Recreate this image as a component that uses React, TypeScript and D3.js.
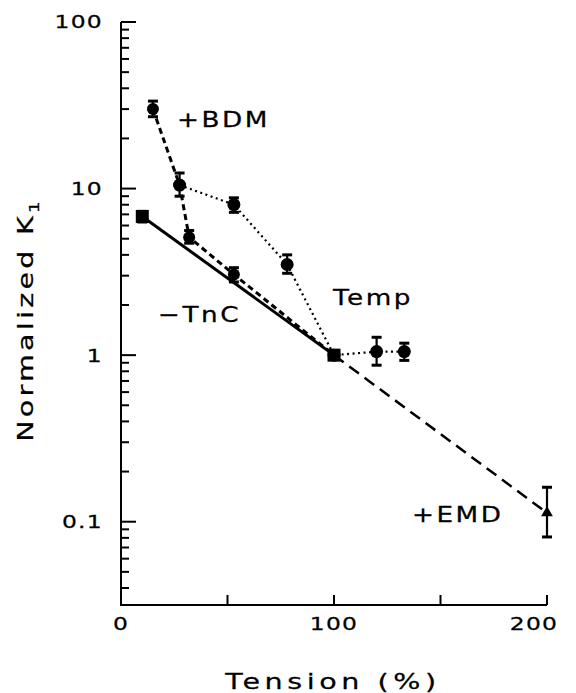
import * as d3 from "d3";

// -TnC (squares, solid line)
const tncX = [10, 100];
const tncY = [6.8, 1];
const tncLo = [6.3, 1];
const tncHi = [7.3, 1];

// +BDM (dashed)
const bdmX = [15, 27.5, 32, 53, 100];
const bdmY = [30, 10.5, 5.1, 3.05, 1];
const bdmLo = [27, 10.5, 4.7, 2.75, 1];
const bdmHi = [33.5, 10.5, 5.6, 3.35, 1];

// Temp (dotted)
const tempX = [27.5, 53, 78, 100, 120, 133];
const tempY = [10.5, 8.0, 3.5, 1, 1.05, 1.05];
const tempLo = [9.0, 7.2, 3.1, 1, 0.87, 0.93];
const tempHi = [12.4, 8.8, 4.0, 1, 1.28, 1.18];

// +EMD (long dashes)
const emdX = [100, 200];
const emdY = [1, 0.113];
const emdLo = [1, 0.081];
const emdHi = [1, 0.161];

const yTicks = [0.1, 1, 10, 100];
const yTickLabels = ["0.1", "1", "10", "100"];
const xTicks = [0, 100, 200];
const xTickLabels = ["0", "100", "200"];

const FONT = "'DejaVu Sans', sans-serif";

// wide text: the original face is a broad geometric sans
function Wide(props: {
  x: number; y: number; size: number; sx: number; ls: number;
  anchor?: string; dy?: string; rotate?: number; children: any;
}) {
  const { x, y, size, sx, ls, anchor, dy, rotate, children } = props;
  return (
    <g transform={`translate(${x},${y})${rotate ? ` rotate(${rotate})` : ""} scale(${sx},1)`}>
      <text
        x={0}
        y={0}
        dy={dy}
        textAnchor={anchor ?? "start"}
        fontFamily={FONT}
        fontSize={size}
        letterSpacing={ls}
        fill="#000"
        stroke="#000"
        strokeWidth={0.25}
      >
        {children}
      </text>
    </g>
  );
}

export default function App() {
  const x = d3.scaleLinear().domain([0, 200]).range([121, 547]);
  const y = d3.scaleLog().domain([10 ** -1.5, 100]).range([605, 22]);

  const line = (xs: number[], ys: number[]) =>
    d3.line<number>().x((_, i) => x(xs[i])).y((d) => y(d))(ys) ?? "";

  const minor: number[] = [];
  for (let e = -2; e < 2; e++) {
    for (let m = 2; m <= 9; m++) {
      const v = m * 10 ** e;
      if (v >= 10 ** -1.5 && v < 100) minor.push(v);
    }
  }

  const errBars = (xs: number[], lo: number[], hi: number[], key: string) =>
    xs.map((xv, i) =>
      hi[i] > lo[i] ? (
        <g key={key + i} stroke="#000" strokeWidth={2.2}>
          <line x1={x(xv)} x2={x(xv)} y1={y(lo[i])} y2={y(hi[i])} />
          <line x1={x(xv) - 5} x2={x(xv) + 5} y1={y(lo[i])} y2={y(lo[i])} strokeWidth={3} />
          <line x1={x(xv) - 5} x2={x(xv) + 5} y1={y(hi[i])} y2={y(hi[i])} strokeWidth={3} />
        </g>
      ) : null
    );

  return (
    <svg width={576} height={693} style={{ position: "absolute", left: 0, top: 0, background: "#fff" }}>
      {/* axes */}
      <g stroke="#000" strokeWidth={2} fill="none">
        <line x1={121} x2={121} y1={y(100)} y2={y(10 ** -1.5)} />
        <line x1={120} x2={x(200)} y1={605} y2={605} />
        {yTicks.map((t) => (
          <line key={"yt" + t} x1={121} x2={136} y1={y(t)} y2={y(t)} />
        ))}
        {minor.map((t) => (
          <line key={"ym" + t} x1={121} x2={129} y1={y(t)} y2={y(t)} />
        ))}
        {[50, 100, 150, 200].map((t) => (
          <line key={"xt" + t} x1={x(t)} x2={x(t)} y1={605} y2={595} />
        ))}
      </g>

      {yTicks.map((t, i) => (
        <Wide key={"yl" + t} x={103} y={y(t)} dy="0.36em" size={18} sx={1.3} ls={1} anchor="end">
          {yTickLabels[i]}
        </Wide>
      ))}
      {xTicks.map((t, i) => (
        <Wide key={"xl" + t} x={Math.min(x(t), 534)} y={630} size={18} sx={1.3} ls={1} anchor="middle">
          {xTickLabels[i]}
        </Wide>
      ))}

      <Wide x={333} y={689} size={22} sx={1.3} ls={3.5} anchor="middle">
        Tension (%)
      </Wide>
      <Wide x={33} y={320} size={22} sx={1.3} ls={2.5} anchor="middle" rotate={-90}>
        Normalized K<tspan fontSize={14} dy={6}>1</tspan>
      </Wide>

      <Wide x={177} y={127} size={21} sx={1.25} ls={2}>+BDM</Wide>
      <Wide x={158} y={322} size={21} sx={1.25} ls={2}>−TnC</Wide>
      <Wide x={333} y={305} size={21} sx={1.25} ls={2}>Temp</Wide>
      <Wide x={412} y={522} size={21} sx={1.25} ls={2}>+EMD</Wide>

      {/* lines */}
      <path d={line(tncX, tncY)} fill="none" stroke="#000" strokeWidth={3} />
      <path d={line(emdX, emdY)} fill="none" stroke="#000" strokeWidth={2.5} strokeDasharray="12,7" />
      <path d={line(bdmX, bdmY)} fill="none" stroke="#000" strokeWidth={3} strokeDasharray="6,4" />
      <path d={line(tempX, tempY)} fill="none" stroke="#000" strokeWidth={2.2} strokeDasharray="2,3.5" />

      {/* error bars */}
      {errBars(tncX, tncLo, tncHi, "tn")}
      {errBars(bdmX, bdmLo, bdmHi, "bd")}
      {errBars(tempX, tempLo, tempHi, "te")}
      {errBars(emdX, emdLo, emdHi, "em")}

      {/* markers */}
      {tncX.map((xv, i) => (
        <rect key={"sq" + i} x={x(xv) - 6.5} y={y(tncY[i]) - 6.5} width={13} height={13} fill="#000" />
      ))}
      {bdmX.map((xv, i) => (
        <circle key={"bc" + i} cx={x(xv)} cy={y(bdmY[i])} r={6} fill="#000" />
      ))}
      {tempX.map((xv, i) => (
        <circle key={"tc" + i} cx={x(xv)} cy={y(tempY[i])} r={6.5} fill="#000" />
      ))}
      {emdX.slice(1).map((xv, i) => (
        <path
          key={"tr" + i}
          d={d3.symbol(d3.symbolTriangle, 60)() ?? ""}
          transform={`translate(${x(xv)},${y(emdY[i + 1])})`}
          fill="#000"
        />
      ))}
    </svg>
  );
}
